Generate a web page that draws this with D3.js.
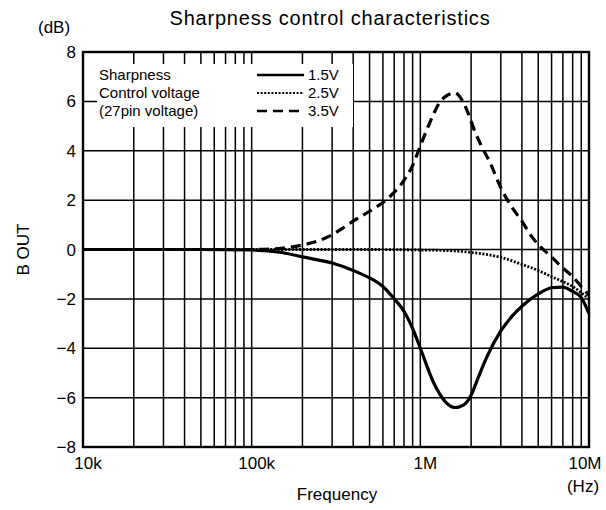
<!DOCTYPE html>
<html>
<head>
<meta charset="utf-8">
<script src="https://cdn.jsdelivr.net/npm/d3@7"></script>
<style>
  body { margin: 0; background: #fff; }
  text { font-family: "Liberation Sans", Arial, sans-serif; fill: #000; }
</style>
</head>
<body>
<svg id="chart"></svg>
<script>
// frequency (Hz) and B OUT (dB)
const freq15 = [1e4, 5e4, 1e5, 1.5e5, 2e5, 3e5, 4e5, 5e5, 6e5, 7e5, 8e5, 9e5, 1e6, 1.2e6, 1.4e6, 1.6e6, 1.8e6, 2e6, 2.2e6, 2.5e6, 3e6, 3.5e6, 4e6, 5e6, 6e6, 7e6, 8e6, 9e6, 1e7];
const val15 = [0, 0, -0.02, -0.12, -0.3, -0.55, -0.85, -1.15, -1.5, -2.0, -2.5, -3.2, -4.0, -5.4, -6.15, -6.4, -6.3, -5.9, -5.2, -4.3, -3.3, -2.7, -2.3, -1.8, -1.55, -1.52, -1.7, -1.95, -2.6];

const freq25 = [1e4, 1e5, 5e5, 1e6, 1.5e6, 2e6, 3e6, 4e6, 5e6, 6e6, 7e6, 8e6, 9e6, 1e7];
const val25 = [0, 0, 0, -0.02, -0.05, -0.12, -0.32, -0.6, -0.85, -1.1, -1.3, -1.5, -1.75, -2.0];

const freq35 = [1e4, 1e5, 1.5e5, 2e5, 2.5e5, 3e5, 3.5e5, 4e5, 5e5, 6.5e5, 8e5, 9e5, 1e6, 1.1e6, 1.2e6, 1.3e6, 1.45e6, 1.6e6, 1.75e6, 1.9e6, 2.1e6, 2.3e6, 2.6e6, 3e6, 3.5e6, 4e6, 4.6e6, 5e6, 6e6, 7e6, 8e6, 9e6, 1e7];
const val35 = [0, 0, 0.05, 0.18, 0.36, 0.6, 0.88, 1.15, 1.55, 2.1, 2.8, 3.4, 4.2, 4.9, 5.5, 5.95, 6.25, 6.35, 6.1, 5.6, 4.8, 4.2, 3.5, 2.5, 1.7, 1.15, 0.5, 0.2, -0.3, -0.75, -1.1, -1.5, -1.85];

const xTickValues = [1e4, 1e5, 1e6, 1e7];
const xTickLabels = ["10k", "100k", "1M", "10M"];
const yTickValues = [-8, -6, -4, -2, 0, 2, 4, 6, 8];

const legendNames = ["1.5V", "2.5V", "3.5V"];
const legendTitle = ["Sharpness", "Control voltage", "(27pin voltage)"];

const config = {
  width: 606,
  height: 510,
  margin: {top: 52, right: 17, bottom: 63, left: 83}
};

const svg = d3.select('#chart')
  .attr('width', config.width)
  .attr('height', config.height);

const innerW = config.width - config.margin.left - config.margin.right;
const innerH = config.height - config.margin.top - config.margin.bottom;

const xScale = d3.scaleLog().domain([1e4, 1e7]).range([0, innerW]);
const yScale = d3.scaleLinear().domain([-8, 8]).range([innerH, 0]);

const chart = svg.append('g')
  .attr('transform', `translate(${config.margin.left}, ${config.margin.top})`);

// grid: every 1..9 step of each decade
const gridX = [];
for (let d = 1e4; d < 1e7; d *= 10) {
  for (let k = 2; k <= 9; k++) gridX.push(d * k);
}
gridX.push(1e5, 1e6);

chart.selectAll('.vgrid').data(gridX).join('line')
  .attr('class', 'vgrid')
  .attr('x1', d => xScale(d)).attr('x2', d => xScale(d))
  .attr('y1', 0).attr('y2', innerH)
  .attr('stroke', '#000').attr('stroke-width', 1.5);

chart.selectAll('.hgrid').data(yTickValues.slice(1, -1)).join('line')
  .attr('class', 'hgrid')
  .attr('x1', 0).attr('x2', innerW)
  .attr('y1', d => yScale(d)).attr('y2', d => yScale(d))
  .attr('stroke', '#000').attr('stroke-width', 1.5);

// legend box covers the grid
chart.append('rect')
  .attr('x', 14).attr('y', 12)
  .attr('width', 256).attr('height', 63)
  .attr('fill', '#fff');

chart.append('rect')
  .attr('x', 0).attr('y', 0)
  .attr('width', innerW).attr('height', innerH)
  .attr('fill', 'none').attr('stroke', '#000').attr('stroke-width', 2.4);

// tick labels
chart.selectAll('.ylab').data(yTickValues).join('text')
  .attr('class', 'ylab')
  .attr('x', -7)
  .attr('y', d => yScale(d) + 6)
  .attr('text-anchor', 'end')
  .attr('font-size', 17)
  .text(d => d < 0 ? '\u2212' + Math.abs(d) : d);

chart.selectAll('.xlab').data(xTickValues).join('text')
  .attr('class', 'xlab')
  .attr('x', (d, i) => xScale(d) + (i === 3 ? -4 : 5))
  .attr('y', innerH + 22)
  .attr('text-anchor', 'middle')
  .attr('font-size', 17)
  .text((d, i) => xTickLabels[i]);

// curves
const line = d3.line()
  .x(d => xScale(d[0]))
  .y(d => yScale(d[1]))
  .curve(d3.curveMonotoneX);

const series = [
  {f: freq15, v: val15, dash: null, w: 3.2},
  {f: freq25, v: val25, dash: '2,1.6', w: 2.8},
  {f: freq35, v: val35, dash: '10,6', w: 3.2}
];

series.forEach(s => {
  chart.append('path')
    .attr('d', line(s.f.map((f, i) => [f, s.v[i]])))
    .attr('fill', 'none')
    .attr('stroke', '#000')
    .attr('stroke-width', s.w)
    .attr('stroke-dasharray', s.dash);
});

// legend
const legend = chart.append('g').attr('transform', 'translate(16, 28)');
legend.selectAll('.ltitle').data(legendTitle).join('text')
  .attr('class', 'ltitle')
  .attr('x', 0).attr('y', (d, i) => i * 18)
  .attr('font-size', 15)
  .text(d => d);
legend.selectAll('.lline').data(series).join('line')
  .attr('class', 'lline')
  .attr('x1', 158).attr('x2', 205)
  .attr('y1', (d, i) => i * 18 - 5).attr('y2', (d, i) => i * 18 - 5)
  .attr('stroke', '#000')
  .attr('stroke-width', d => d.w - 0.6)
  .attr('stroke-dasharray', d => d.dash);
legend.selectAll('.lname').data(legendNames).join('text')
  .attr('class', 'lname')
  .attr('x', 209).attr('y', (d, i) => i * 18)
  .attr('font-size', 15)
  .text(d => d);

// titles
svg.append('text')
  .attr('x', 330).attr('y', 25)
  .attr('text-anchor', 'middle')
  .attr('font-size', 20)
  .attr('letter-spacing', 0.8)
  .text('Sharpness control characteristics');

svg.append('text')
  .attr('x', 38).attr('y', 33)
  .attr('font-size', 17)
  .text('(dB)');

svg.append('text')
  .attr('transform', `translate(29, ${config.margin.top + innerH / 2}) rotate(-90)`)
  .attr('text-anchor', 'middle')
  .attr('font-size', 17)
  .text('B OUT');

svg.append('text')
  .attr('x', 337).attr('y', 500)
  .attr('text-anchor', 'middle')
  .attr('font-size', 17)
  .text('Frequency');

svg.append('text')
  .attr('x', 583).attr('y', 492)
  .attr('text-anchor', 'middle')
  .attr('font-size', 17)
  .text('(Hz)');
</script>
</body>
</html>
